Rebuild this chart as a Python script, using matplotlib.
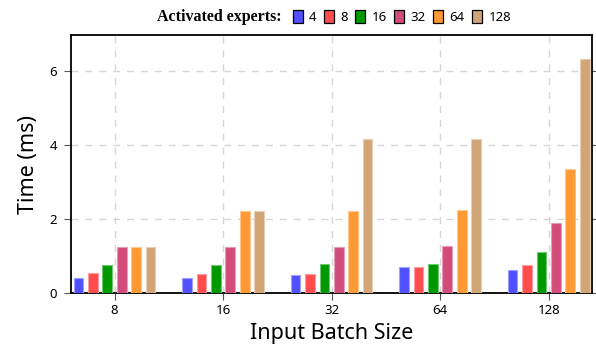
import matplotlib
matplotlib.use("Agg")
import matplotlib.pyplot as plt
from matplotlib.patches import Patch
from matplotlib.colors import to_rgb
import numpy as np

batch_sizes = ["8", "16", "32", "64", "128"]
experts = ["4", "8", "16", "32", "64", "128"]
colors = ["#5050ff", "#ff4d4d", "#009900", "#d14b7b", "#ff9933", "#d2a577"]

# time in ms, one list per number of activated experts
t_e4 = [0.42, 0.42, 0.49, 0.70, 0.64]
t_e8 = [0.56, 0.53, 0.53, 0.72, 0.77]
t_e16 = [0.77, 0.77, 0.78, 0.80, 1.11]
t_e32 = [1.24, 1.24, 1.25, 1.28, 1.90]
t_e64 = [1.24, 2.22, 2.22, 2.25, 3.35]
t_e128 = [1.24, 2.23, 4.17, 4.17, 6.33]
series = [t_e4, t_e8, t_e16, t_e32, t_e64, t_e128]

plt.rcParams["font.family"] = ["Noto Sans", "DejaVu Sans"]

fig = plt.figure(figsize=(5.96, 3.52), dpi=100)
ax = fig.add_axes([0.1186, 0.1668, 0.9933 - 0.1186, 0.8997 - 0.1668])

x = np.arange(len(batch_sizes))
pitch = 0.133
width = 0.089

def lighter(c, f=0.45):
  r, g, b = to_rgb(c)
  return (r + (1 - r) * f, g + (1 - g) * f, b + (1 - b) * f)

for i, (vals, c) in enumerate(zip(series, colors)):
  ax.bar(x + (i - 2.5) * pitch, vals, width, color=c,
         edgecolor=lighter(c), linewidth=0.8, zorder=3)

ax.set_xlim(-0.404, 4.40)
ax.set_ylim(0, 6.97)
ax.set_xticks(x)
ax.set_xticklabels(batch_sizes)
ax.set_yticks([0, 2, 4, 6])

ax.grid(True, color="#d6d6d6", linestyle=(0, (5, 5)), linewidth=1.0, zorder=0)
for s in ax.spines.values():
  s.set_linewidth(1.3)
  s.set_color("black")
ax.tick_params(axis="both", direction="out", length=5, width=0.8,
               color="#555555", labelsize=9.5, pad=3)
ax.tick_params(axis="y", right=True, pad=5)

ax.set_xlabel("Input Batch Size", fontsize=15.5, labelpad=4)
ax.set_ylabel("Time (ms)", fontsize=15.5, labelpad=7)

fig.text(0.263, 0.952, "Activated experts:", fontsize=11.5, fontweight="bold",
         family="Liberation Serif", ha="left", va="center")
handles = [Patch(facecolor=c, edgecolor="black", linewidth=0.9) for c in colors]
fig.legend(handles, experts, loc="center left", bbox_to_anchor=(0.491, 0.952),
           ncol=6, frameon=False, fontsize=9.5, handlelength=0.75, handleheight=1.2,
           handletextpad=0.5, columnspacing=0.55, borderaxespad=0, borderpad=0)

fig.savefig("out.png", dpi=100)
